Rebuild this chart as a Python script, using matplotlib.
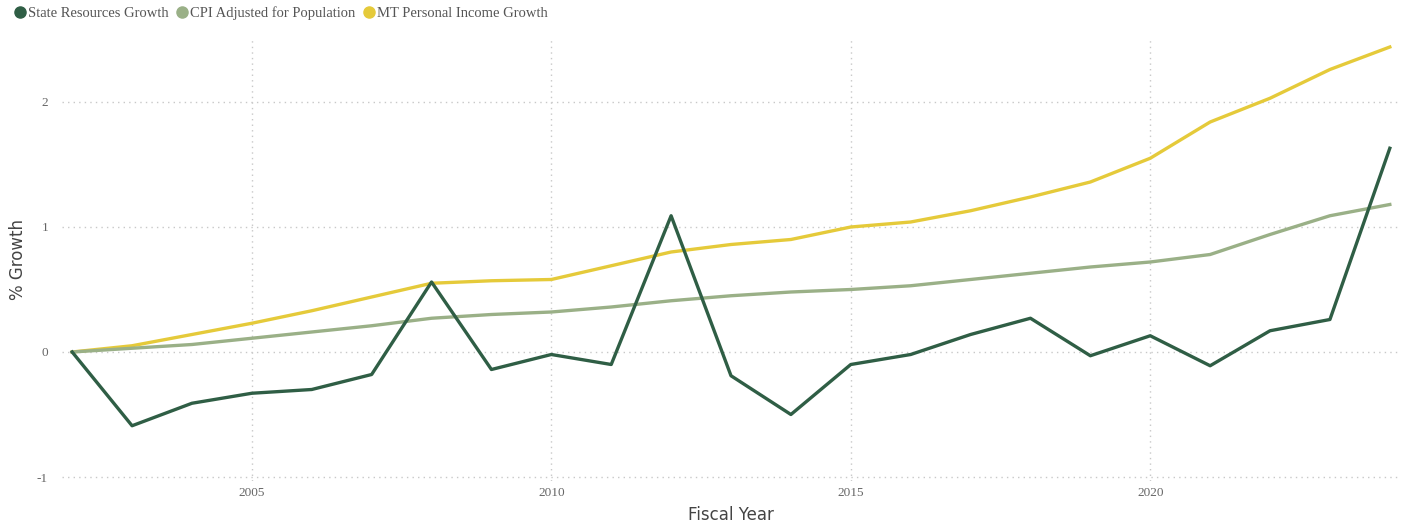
import numpy as np
import matplotlib
matplotlib.use("Agg")
import matplotlib.pyplot as plt
from matplotlib.lines import Line2D

plt.rcParams["axes.unicode_minus"] = False

years = list(range(2002, 2025))
state_resources = [0, -0.59, -0.41, -0.33, -0.30, -0.18, 0.56, -0.14, -0.02, -0.10, 1.09,
                   -0.19, -0.50, -0.10, -0.02, 0.14, 0.27, -0.03, 0.13, -0.11, 0.17, 0.26, 1.63]
cpi_pop = [0, 0.03, 0.06, 0.11, 0.16, 0.21, 0.27, 0.30, 0.32, 0.36, 0.41,
           0.45, 0.48, 0.50, 0.53, 0.58, 0.63, 0.68, 0.72, 0.78, 0.94, 1.09, 1.18]
mt_income = [0, 0.05, 0.14, 0.23, 0.33, 0.44, 0.55, 0.57, 0.58, 0.69, 0.80,
             0.86, 0.90, 1.00, 1.04, 1.13, 1.24, 1.36, 1.55, 1.84, 2.03, 2.26, 2.44]

names = ["State Resources Growth", "CPI Adjusted for Population", "MT Personal Income Growth"]
colors = ["#2F5E45", "#9AB087", "#E5CA3A"]

fig = plt.figure(figsize=(14.09, 5.22), dpi=100)
ax = fig.add_axes([62/1409, 1-481/522, (1400-62)/1409, (481-38)/522])

# yellow and light green first, dark green on top
ax.plot(years, mt_income, color=colors[2], lw=2.4, solid_joinstyle="round", zorder=3)
ax.plot(years, cpi_pop, color=colors[1], lw=2.4, solid_joinstyle="round", zorder=3)
ax.plot(years, state_resources, color=colors[0], lw=2.4, solid_joinstyle="round", zorder=4)

ax.set_xlim(2001.83, 2024.17)
ax.set_ylim(-(481-352)/125, (352-38)/125)
ax.set_xticks([2005, 2010, 2015, 2020])
ax.set_yticks([-1, 0, 1, 2])
ax.grid(True, color="#C8C8C8", linestyle=(0, (1, 3)), lw=1)
ax.set_axisbelow(True)
for s in ax.spines.values():
    s.set_visible(False)
ax.tick_params(length=0, labelsize=9.5, labelcolor="#666666")
ax.tick_params(axis="x", pad=4)
ax.tick_params(axis="y", pad=10)
for lab in ax.get_xticklabels() + ax.get_yticklabels():
    lab.set_fontfamily("Liberation Serif")

ax.set_xlabel("Fiscal Year", fontsize=12, color="#444444", family="DejaVu Sans", labelpad=5)
ax.set_ylabel("% Growth", fontsize=12, color="#444444", family="DejaVu Sans")
ax.yaxis.set_label_coords((27-62)/1338, 0.5)

handles = [Line2D([], [], marker="o", ls="", color=c, markersize=8) for c in colors]
fig.legend(handles, names, loc="upper left", bbox_to_anchor=(0.002, 1.005), ncol=3, frameon=False,
           prop={"family": "Liberation Serif", "size": 10.5}, labelcolor="#555555",
           handletextpad=0.0, columnspacing=0.4, handlelength=1.1, borderaxespad=0.2)

fig.savefig("out.png", dpi=100)
